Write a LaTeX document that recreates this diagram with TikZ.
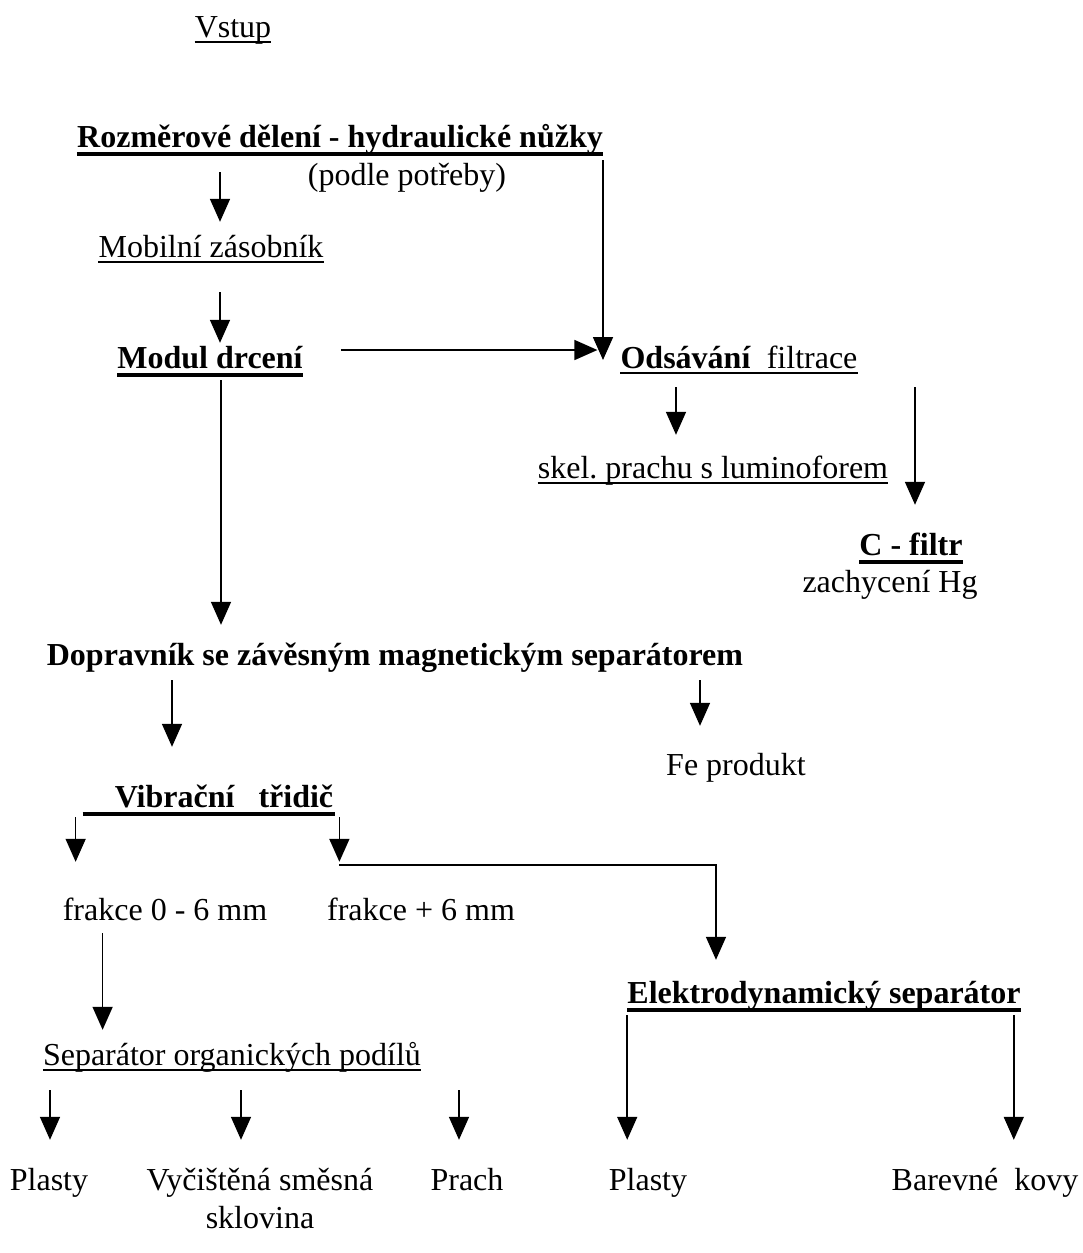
\documentclass[tikz,border=0pt]{standalone}
\usepackage{fontspec}
\setmainfont{Liberation Serif}
\usetikzlibrary{arrows.meta,positioning}
\frenchspacing

\tikzset{
  txt/.style={font=\fontsize{32}{38}\selectfont, inner sep=0pt, anchor=base, text height=23pt, text depth=7pt},
  btxt/.style={txt, font=\fontsize{32}{38}\selectfont\bfseries},
  ul/.style={append after command={([yshift=-5pt]\tikzlastnode.base west) edge[line width=2pt] ([yshift=-5pt]\tikzlastnode.base east)}},
  bul/.style={append after command={([yshift=-7pt]\tikzlastnode.base west) edge[line width=3.5pt] ([yshift=-7pt]\tikzlastnode.base east)}},
  arr/.style={line width=1.6pt, -{Triangle[length=23pt,width=20pt]}},
}

\begin{document}
\begin{tikzpicture}[x=1pt, y=-1pt]
\useasboundingbox (0,0) rectangle (1083,1253);
% upper part
\node[txt, ul] (vstup) at (233,37) {Vstup};
\node[btxt, bul] (delen) at (340,147) {Rozměrové dělení - hydraulické nůžky};
\node[txt] (potreba) at (407,185) {(podle potřeby)};
\node[txt, ul] (zasob) at (211,257) {Mobilní zásobník};
\node[btxt, bul] (drceni) at (210,368) {Modul drcení};
\node[txt, ul] (odsav) at (739,368) {\textbf{Odsávání}\ \ filtrace};
\node[txt, ul] (prach) at (713,478) {skel. prachu s luminoforem};
\node[btxt, bul] (cfiltr) at (911,555) {C - filtr};
\node[txt] (hg) at (890,592) {zachycení Hg};
% middle part
\node[btxt] (doprav) at (395,665) {Dopravník se závěsným magnetickým separátorem};
\node[txt] (fe) at (736,775) {Fe produkt};
\node[btxt, bul] (vibr) at (209,807) {\hspace*{32pt}Vibrační\ \ \ třidič\hspace*{2pt}};
\node[txt] (fr0) at (165,920) {frakce 0 - 6 mm};
\node[txt] (fr6) at (421,920) {frakce + 6 mm};
% lower part
\node[btxt, bul] (elektro) at (824,1003) {Elektrodynamický separátor};
\node[txt, ul] (sepor) at (232,1065) {Separátor organických podílů};
\node[txt] (plasty1) at (49,1190) {Plasty};
\node[txt, align=center] (sklo) at (260,1228) {Vyčištěná směsná\\sklovina};
\node[txt] (prachb) at (467,1190) {Prach};
\node[txt] (plasty2) at (648,1190) {Plasty};
\node[txt] (kovy) at (985,1190) {Barevné\ \ kovy};

% arrows
\draw[arr, shorten <=18pt, shorten >=12pt] ([xshift=9pt]zasob.north |- delen.south) -- ([xshift=9pt]zasob.north);
\draw[arr, shorten <=28pt, shorten >=2pt] ([xshift=10pt]drceni.north |- zasob.south) -- ([xshift=10pt]drceni.north);
\draw[arr, shorten <=6pt] (delen.south east) -- (delen.south east |- odsav.west);
\draw[arr] ([xshift=38pt,yshift=10pt]drceni.east) -- ([xshift=-23pt,yshift=10pt]odsav.west);
\draw[arr, shorten <=12pt, shorten >=20pt] ([xshift=-37pt]prach.north |- odsav.south) -- ([xshift=-37pt]prach.north);
\draw[arr, shorten <=12pt, shorten >=27pt] ([xshift=4pt]cfiltr.north |- odsav.south) -- ([xshift=4pt]cfiltr.north);
\draw[arr, shorten <=5pt, shorten >=17pt] ([xshift=11pt]drceni.south) -- ([xshift=11pt]drceni.south |- doprav.north);
\draw[arr, shorten <=8pt, shorten >=37pt] ([xshift=-37pt]vibr.north |- doprav.south) -- ([xshift=-37pt]vibr.north);
\draw[arr, shorten <=8pt, shorten >=26pt] ([xshift=-36pt]fe.north |- doprav.south) -- ([xshift=-36pt]fe.north);
\draw[arr, shorten <=3pt, shorten >=35pt] ([xshift=-7pt]vibr.south west) -- ([xshift=-7pt]vibr.south west |- fr0.north);
\draw[arr, shorten <=3pt, shorten >=35pt] ([xshift=4pt]vibr.south east) -- ([xshift=4pt]vibr.south east |- fr6.north);
\coordinate (split) at ([xshift=4pt,yshift=-51pt]vibr.south east);
\draw[arr, shorten >=20pt] (split) -| ([xshift=-108pt]elektro.north);
\draw[arr, shorten <=6pt, shorten >=12pt] ([xshift=40pt]fr0.south west) -- ([xshift=40pt]fr0.south west |- sepor.north);
\draw[arr, shorten <=5pt, shorten >=27pt] (elektro.south west) -- (elektro.south west |- plasty2.north);
\draw[arr, shorten <=5pt, shorten >=27pt] ([xshift=-7pt]elektro.south east) -- ([xshift=-7pt]elektro.south east |- kovy.north);
\foreach \n/\dx in {plasty1/1, sklo/-19, prachb/-8}
  \draw[arr, shorten <=18pt, shorten >=27pt] ([xshift=\dx pt]\n.north |- sepor.south) -- ([xshift=\dx pt]\n.north |- plasty1.north);
\end{tikzpicture}
\end{document}
